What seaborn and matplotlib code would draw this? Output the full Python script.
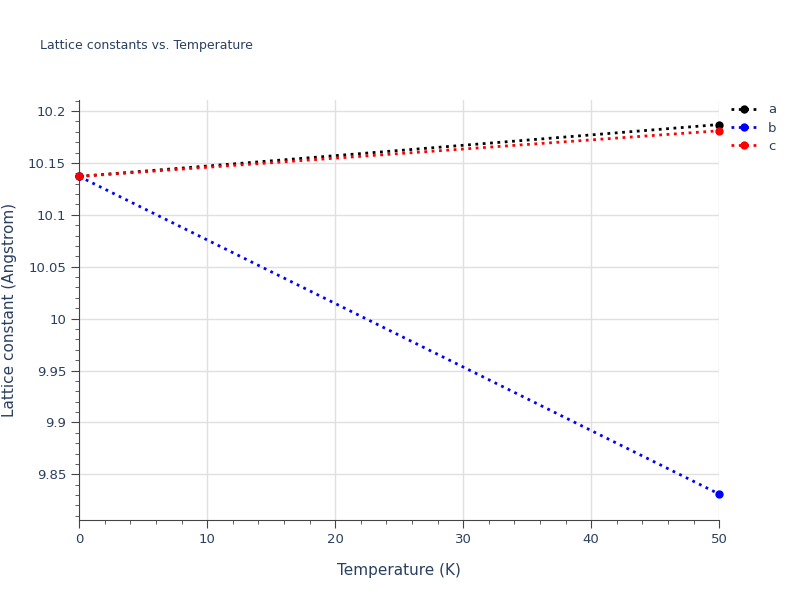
import numpy as np
import pandas as pd
import matplotlib.pyplot as plt
import seaborn as sns
from matplotlib.ticker import MultipleLocator, FuncFormatter

temperature = [0, 50]
lattice_a = [10.137, 10.187]
lattice_b = [10.137, 9.831]
lattice_c = [10.137, 10.181]
series_names = ['a', 'b', 'c']
series_colors = ['black', 'blue', 'red']

rows = []
for name, vals in zip(series_names, [lattice_a, lattice_b, lattice_c]):
    for t, v in zip(temperature, vals):
        rows.append({'T': t, 'val': v, 'series': name})
df = pd.DataFrame(rows)

sns.set_style('white')
plt.rcParams['font.family'] = ['DejaVu Sans']
fig = plt.figure(figsize=(8, 6), dpi=100)
ax = fig.add_axes([0.099, 0.1333, 0.8, 0.7])

ax.grid(True, color='#e0e0e0', linewidth=1)
ax.set_axisbelow(True)
for name, col in zip(series_names, series_colors):
    sub = df[df.series == name]
    sns.lineplot(data=sub, x='T', y='val', ax=ax, color=col, linestyle=':',
                 linewidth=2, marker='o', markersize=6, markeredgewidth=0,
                 label=name, clip_on=False)

ax.set_xlim(0, 50)
ax.set_ylim(9.806, 10.2106)
ax.xaxis.set_major_locator(MultipleLocator(10))
ax.xaxis.set_minor_locator(MultipleLocator(2))
ax.yaxis.set_major_locator(MultipleLocator(0.05))
ax.yaxis.set_minor_locator(MultipleLocator(0.01))
ax.yaxis.set_major_formatter(FuncFormatter(lambda v, p: f'{v:.3f}'.rstrip('0').rstrip('.')))
ax.tick_params(which='major', direction='out', length=6, color='#444', labelsize=9.5,
               labelcolor='#2a3f5f', bottom=True, left=True)
ax.tick_params(which='minor', direction='out', length=3, color='#444', bottom=True, left=True)
for s in ['top', 'right']:
    ax.spines[s].set_visible(False)
for s in ['left', 'bottom']:
    ax.spines[s].set_color('#444')
ax.set_xlabel('Temperature (K)', fontsize=11, color='#2a3f5f', labelpad=12)
ax.set_ylabel('Lattice constant (Angstrom)', fontsize=11, color='#2a3f5f', labelpad=8)
fig.text(0.05, 0.918, 'Lattice constants vs. Temperature', fontsize=9, color='#2a3f5f')
ax.legend(loc='upper left', bbox_to_anchor=(1.0, 1.02), frameon=False, fontsize=9.5,
          labelcolor='#2a3f5f', handlelength=2, labelspacing=0.4)
fig.savefig('out.png', dpi=100)
